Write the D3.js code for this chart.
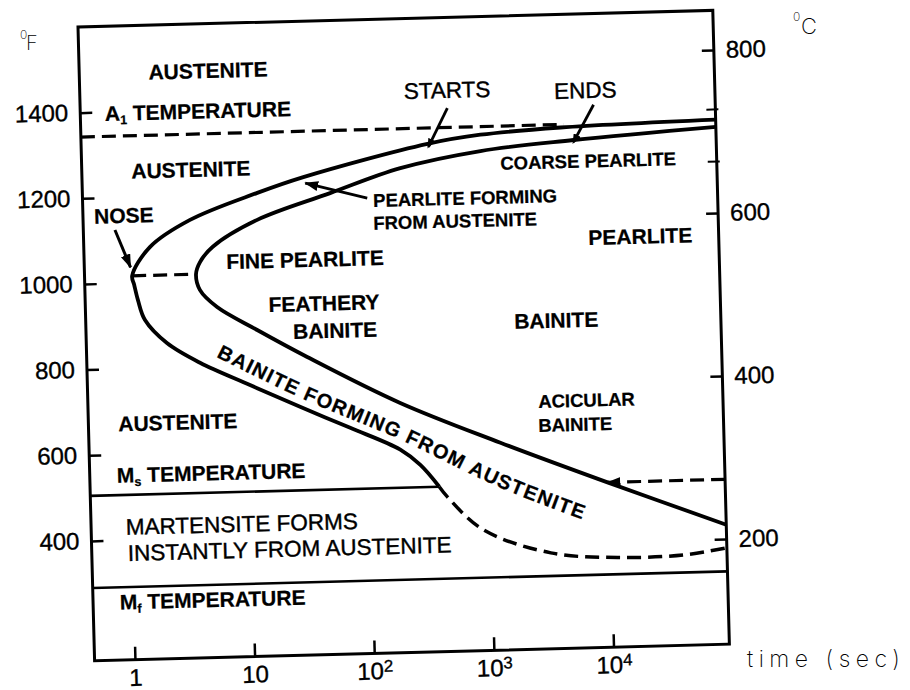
<!DOCTYPE html>
<html>
<head>
<meta charset="utf-8">
<script src="https://cdn.jsdelivr.net/npm/d3@7"></script>
<style>
body { margin: 0; background: #fff; }
svg { display: block; background: #fff; }
.tick text { font-family: "Liberation Sans", Arial, sans-serif; font-size: 24px; fill: #000; stroke: #000; stroke-width: 0.35px; }
.tick line { stroke: #000; stroke-width: 2.5px; }
.lbl { font-family: "Liberation Sans", Arial, sans-serif; font-weight: bold; fill: #000; stroke: #000; stroke-width: 0.25px; }
.big { font-size: 21px; }
.small { font-size: 18.5px; }
.plain { font-weight: normal; font-size: 22.5px; stroke-width: 0.4px; }
.band { font-size: 20px; letter-spacing: 1.3px; }
.hand { font-family: Inter, Lato, "DejaVu Sans", sans-serif; font-weight: 200; fill: #000; }
</style>
</head>
<body>
<svg width="910" height="690"></svg>
<script>
// ---- chart values (time in seconds, temperature in deg F unless noted) ----
var timeDomain = [0.46, 93000];
var fDomain = [120, 1600];
var cDomain = [71, 848.5];          // right axis, deg C

var fTicks = [400, 600, 800, 1000, 1200, 1400];
var cTicks = [200, 400, 600, 800];
var cMinorTicks = [663, 727];
var timeTicks = [1, 10, 100, 1000, 10000];
var timeTickBase = ['1', '10', '10', '10', '10'];
var timeTickExp = ['', '', '2', '3', '4'];

var a1Line = [[0.46, 1343], [5000, 1343]];
var msLine = [[0.46, 505], [380, 505]];
var msDashed = [[93000, 505], [9680, 505]];
var mfLine = [[0.46, 290], [93000, 290]];
var noseLine = [[1.15, 1016], [3.93, 1016]];

// transformation start curve
var startSolid = [[93000, 1345], [4700, 1336], [1000, 1324], [360, 1306], [32.5, 1236], [13.3, 1202],
    [3.6, 1143], [1.64, 1082], [1.15, 1016], [1.19, 995], [1.27, 959], [1.44, 912], [2.17, 857],
    [4.06, 809], [10.5, 754], [27.2, 700], [70.6, 648], [183, 594], [267, 557], [380, 505]];
var startDashed = [[380, 505], [442, 481], [867, 402], [3140, 344], [11300, 329], [40300, 331], [93000, 345]];

// transformation end curve
var endCurve = [[93000, 1328], [5970, 1306], [993, 1286], [211, 1251], [54, 1197], [13.1, 1139],
    [5.5, 1079], [4.27, 1044], [3.93, 1016], [4.2, 979], [5.8, 938], [12.4, 882], [32, 816],
    [187, 703], [1260, 604], [9680, 505], [93000, 399]];

// pointers
var nosePointer = [[0.845, 1124], [1.12, 1036]];
var startsPointer = [[537, 1388], [366, 1299]];
var endsPointer = [[8950, 1387], [5970, 1301]];
var pearlitePointer = [[110, 1183], [33.6, 1222]];

// baseline of the label inside the bainite band
var bandBaseline = [[5.56, 822], [27.4, 721], [184, 617], [1230, 499], [5980, 419]];

// labels: [text, time, temp]
var bigLabels = [
    ['AUSTENITE', 5.48, 1473], ['AUSTENITE', 3.75, 1243], ['NOSE', 1.01, 1140],
    ['PEARLITE', 20600, 1060], ['FINE PEARLITE', 32.2, 1026], ['FEATHERY', 45.4, 923],
    ['BAINITE', 55.4, 859], ['BAINITE', 3920, 869], ['AUSTENITE', 2.57, 654]
];
var smallLabels = [
    ['COARSE PEARLITE', 1445, 1241], ['PEARLITE FORMING', 123, 1162], ['FROM AUSTENITE', 122, 1109],
    ['ACICULAR', 2660, 683], ['BAINITE', 2630, 627]
];
var plainCentered = [['STARTS', 539, 1412], ['ENDS', 7690, 1403]];
var plainLeft = [['MARTENSITE FORMS', 0.896, 412], ['INSTANTLY FROM AUSTENITE', 0.919, 351]];
var subLabels = [
    ['A', '1', ' TEMPERATURE', 0.736, 1379],
    ['M', 's', ' TEMPERATURE', 0.774, 534],
    ['M', 'f', ' TEMPERATURE', 0.768, 238]
];
var bandLabel = 'BAINITE FORMING FROM AUSTENITE';

// ---- layout ----
var svg = d3.select('svg');
var W = 635, H = 634;

// the scanned figure is tilted a little
var chartG = svg.append('g')
    .attr('transform', 'translate(78,27) rotate(-1.5)');

var x = d3.scaleLog().domain(timeDomain).range([0, W]);
var yF = d3.scaleLinear().domain(fDomain).range([H, 0]);
var yC = d3.scaleLinear().domain(cDomain).range([H, 0]);

var curve = d3.line()
    .x(function(d) { return x(d[0]); })
    .y(function(d) { return yF(d[1]); })
    .curve(d3.curveCatmullRom.alpha(0.5));
var straight = d3.line()
    .x(function(d) { return x(d[0]); })
    .y(function(d) { return yF(d[1]); });

var defs = svg.append('defs');
defs.append('marker')
    .attr('id', 'arrow')
    .attr('viewBox', '0 0 14 10')
    .attr('refX', 13).attr('refY', 5)
    .attr('markerWidth', 14).attr('markerHeight', 10)
    .attr('markerUnits', 'userSpaceOnUse')
    .attr('orient', 'auto')
    .append('path').attr('d', 'M0,0L14,5L0,10z').attr('fill', '#000');
defs.append('marker')
    .attr('id', 'blob')
    .attr('viewBox', '0 0 10 8')
    .attr('refX', 8).attr('refY', 4)
    .attr('markerWidth', 10).attr('markerHeight', 8)
    .attr('markerUnits', 'userSpaceOnUse')
    .attr('orient', 'auto')
    .append('path').attr('d', 'M0,0L10,4L0,8z').attr('fill', '#000');

// axes
chartG.append('g')
    .call(d3.axisLeft(yF).tickValues(fTicks).tickSizeInner(-12).tickSizeOuter(0).tickPadding(12)
        .tickFormat(d3.format('d')))
    .call(function(g) { g.select('.domain').remove(); });

chartG.append('g')
    .attr('transform', 'translate(' + W + ',0)')
    .call(d3.axisRight(yC).tickValues(cTicks).tickSizeInner(-12).tickSizeOuter(0).tickPadding(12)
        .tickFormat(d3.format('d')))
    .call(function(g) { g.select('.domain').remove(); });

chartG.selectAll('.minor')
    .data(cMinorTicks)
    .enter().append('line')
    .attr('class', 'minor')
    .attr('x1', W - 9).attr('x2', W + 3)
    .attr('y1', function(d) { return yC(d); })
    .attr('y2', function(d) { return yC(d); })
    .attr('stroke', '#000').attr('stroke-width', 2);

var bottomG = chartG.append('g')
    .attr('transform', 'translate(0,' + H + ')')
    .call(d3.axisBottom(x).tickValues(timeTicks).tickSizeInner(-13).tickSizeOuter(0).tickPadding(9)
        .tickFormat(''))
    .call(function(g) { g.select('.domain').remove(); });
bottomG.selectAll('.tick text').each(function(d, i) {
    var t = d3.select(this);
    t.append('tspan').text(timeTickBase[i]);
    if (timeTickExp[i]) {
        t.append('tspan').attr('dy', '-0.45em').attr('font-size', '0.7em').text(timeTickExp[i]);
    }
});

// frame
chartG.append('rect')
    .attr('width', W).attr('height', H)
    .attr('fill', 'none').attr('stroke', '#000').attr('stroke-width', 3);

// horizontal temperature lines
function drawPath(data, gen, width, dash, marker) {
    var p = chartG.append('path')
        .attr('d', gen(data))
        .attr('fill', 'none')
        .attr('stroke', '#000')
        .attr('stroke-width', width);
    if (dash) p.attr('stroke-dasharray', dash);
    if (marker) p.attr('marker-end', 'url(#' + marker + ')');
    return p;
}
drawPath(a1Line, straight, 3.2, '14,7');
drawPath(noseLine, straight, 3.2, '14,7');
drawPath(msLine, straight, 2.6);
drawPath(mfLine, straight, 2.6);
drawPath(msDashed, straight, 3.2, '14,7', 'arrow');

// C curves
drawPath(startSolid, curve, 3.8);
drawPath(startDashed, curve, 3.5, '14,7');
drawPath(endCurve, curve, 3.8);

// pointers
drawPath(nosePointer, straight, 3, null, 'arrow');
drawPath(pearlitePointer, straight, 2.8, null, 'arrow');
drawPath(startsPointer, straight, 2.8, null, 'blob');
drawPath(endsPointer, straight, 2.8, null, 'blob');

// labels
function addLabels(arr, cls, anchor) {
    chartG.selectAll(null)
        .data(arr)
        .enter().append('text')
        .attr('class', 'lbl ' + cls)
        .attr('text-anchor', anchor)
        .attr('x', function(d) { return x(d[1]); })
        .attr('y', function(d) { return yF(d[2]); })
        .text(function(d) { return d[0]; });
}
addLabels(bigLabels, 'big', 'middle');
addLabels(smallLabels, 'small', 'start');
addLabels(plainCentered, 'plain', 'middle');
addLabels(plainLeft, 'plain', 'start');

var subText = chartG.selectAll(null)
    .data(subLabels)
    .enter().append('text')
    .attr('class', 'lbl big')
    .attr('x', function(d) { return x(d[3]); })
    .attr('y', function(d) { return yF(d[4]); });
subText.append('tspan').text(function(d) { return d[0]; });
subText.append('tspan').attr('dy', '0.3em').attr('font-size', '0.6em').text(function(d) { return d[1]; });
subText.append('tspan').attr('dy', '-0.18em').text(function(d) { return d[2]; });

// label along the bainite band
chartG.append('path')
    .attr('id', 'bandPath')
    .attr('d', curve(bandBaseline))
    .attr('fill', 'none');
chartG.append('text')
    .attr('class', 'lbl band')
    .append('textPath')
    .attr('href', '#bandPath')
    .text(bandLabel);

// handwritten unit notes
var fUnit = svg.append('text').attr('class', 'hand');
fUnit.append('tspan').attr('x', 20).attr('y', 39).attr('font-size', 12).text('0');
fUnit.append('tspan').attr('x', 26).attr('y', 50).attr('font-size', 20).text('F');

var cUnit = svg.append('text').attr('class', 'hand');
cUnit.append('tspan').attr('x', 793).attr('y', 21).attr('font-size', 12).text('0');
cUnit.append('tspan').attr('x', 801).attr('y', 34).attr('font-size', 22).text('C');

svg.append('text')
    .attr('class', 'hand')
    .attr('x', 747).attr('y', 667)
    .attr('font-size', 23)
    .attr('letter-spacing', 5.5)
    .text('time (sec)');
</script>
</body>
</html>
